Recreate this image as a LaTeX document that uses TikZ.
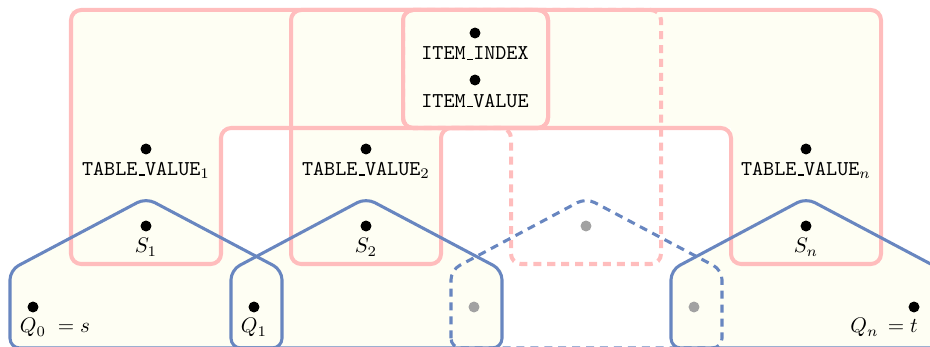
\documentclass[tikz,border=0pt]{standalone}
\usetikzlibrary{calc}

\definecolor{hfill}{RGB}{254,254,243}
\definecolor{hpink}{RGB}{255,189,189}
\definecolor{hblue}{RGB}{104,134,192}
\definecolor{hgray}{RGB}{162,162,162}

\pgfdeclarelayer{fills}
\pgfdeclarelayer{edges}
\pgfsetlayers{fills,edges,main}

% short baseline bar used as the underscore in identifiers
\newcommand\usc{\leavevmode\kern.06em\vbox{\hrule height .6pt width .3em}}

% pink hyperedge reaching the item block from the left
\newcommand\pinkfromleft[2]{%
  \path[#2] (#1-l |- T) -- (IR |- T) -- (IR |- M) -- (#1-r |- M)
    -- (#1-r |- B) -- (#1-l |- B) -- cycle;}
% pink hyperedge reaching the item block from the right
\newcommand\pinkfromright[2]{%
  \path[#2] (IL |- T) -- (#1-r |- T) -- (#1-r |- B) -- (#1-l |- B)
    -- (#1-l |- M) -- (IL |- M) -- cycle;}
% blue house-shaped hyperedge around Q_{i-1}, S_i, Q_i
\newcommand\qhull[4]{%
  \path[#4] ($(#1)+(-23,41)$) -- ($(#1)+(-23,-37)$) -- ($(#2)+(0,-28)$)
    -- ($(#3)+(28,-37)$) -- ($(#3)+(28,41)$) -- cycle;}

\begin{document}
\begin{tikzpicture}[x=0.474pt,y=-0.474pt,
  dot/.style={circle,fill=black,inner sep=0pt,minimum size=5.2pt},
  gdot/.style={dot,fill=hgray},
  lbl/.style={anchor=north,inner sep=0pt},
  pinkline/.style={draw=hpink,line width=1.9pt,rounded corners=4.8pt},
  blueline/.style={draw=hblue,line width=1.45pt,rounded corners=4.6pt},
  dashes/.style={dash pattern=on 3.8pt off 2.8pt},
  areafill/.style={fill=hfill}]

\useasboundingbox (0,0) rectangle (930,347);

% guide lines of the pink hyperedges
\coordinate (T) at (0,10);
\coordinate (M) at (0,128);
\coordinate (B) at (0,264);
\coordinate (IL) at (403,0);
\coordinate (IR) at (548,0);

% vertices
\node[dot]  (ii)  at (475,33)  {};
\node[dot]  (iv)  at (475,80)  {};
\node[dot]  (tv1) at (146,149) {};
\node[dot]  (tv2) at (366,149) {};
\node[dot]  (tvn) at (806,149) {};
\node[dot]  (s1)  at (146,226) {};
\node[dot]  (s2)  at (366,226) {};
\node[gdot] (s3)  at (586,226) {};
\node[dot]  (sn)  at (806,226) {};
\node[dot]  (q0)  at (33,307)  {};
\node[dot]  (q1)  at (254,307) {};
\node[gdot] (q2)  at (474,307) {};
\node[gdot] (q3)  at (694,307) {};
\node[dot]  (qn)  at (914,307) {};

% vertex labels
\node[lbl] (iit)  at ($(ii)+(0,13.5)$)  {\texttt{ITEM\usc INDEX}};
\node[lbl] (ivt)  at ($(iv)+(0,13.5)$)  {\texttt{ITEM\usc VALUE}};
\node[lbl] (tv1t) at ($(tv1)+(0,13)$)   {\texttt{TABLE\usc VALUE}$_1$};
\node[lbl] (tv2t) at ($(tv2)+(0,13)$)   {\texttt{TABLE\usc VALUE}$_2$};
\node[lbl] (tvnt) at ($(tvn)+(0,13)$)   {\texttt{TABLE\usc VALUE}$_n$};
\node[lbl] (s1t)  at ($(s1)+(0,12)$)    {$S_1$};
\node[lbl] (s2t)  at ($(s2)+(0,12)$)    {$S_2$};
\node[lbl] (snt)  at ($(sn)+(0,12)$)    {$S_n$};
\node[lbl] (q0t)  at ($(q0)+(0,11)$)    {$Q_0\rlap{$\;{}=s$}$};
\node[lbl] (q1t)  at ($(q1)+(0,11)$)    {$Q_1$};
\node[lbl] (qnt)  at ($(qn)+(0,11)$)    {$\llap{$Q_n\,{}={}$}t$};

% side limits of the pink hyperedges
\foreach \n in {tv1,tv2,s3,tvn}{
  \coordinate (\n-l) at ($(\n)+(-75,0)$);
  \coordinate (\n-r) at ($(\n)+(75,0)$);
}

\begin{pgfonlayer}{fills}
  \pinkfromleft{tv1}{areafill}
  \pinkfromleft{tv2}{areafill}
  \pinkfromright{tvn}{areafill}
  \qhull{q0}{s1}{q1}{areafill}
  \qhull{q1}{s2}{q2}{areafill}
  \qhull{q3}{sn}{qn}{areafill}
\end{pgfonlayer}

\begin{pgfonlayer}{edges}
  \pinkfromright{s3}{pinkline,dashes}
  \pinkfromleft{tv1}{pinkline}
  \pinkfromleft{tv2}{pinkline}
  \pinkfromright{tvn}{pinkline}
  \qhull{q2}{s3}{q3}{blueline,dashes}
  \qhull{q0}{s1}{q1}{blueline}
  \qhull{q1}{s2}{q2}{blueline}
  \qhull{q3}{sn}{qn}{blueline}
\end{pgfonlayer}

\end{tikzpicture}
\end{document}
